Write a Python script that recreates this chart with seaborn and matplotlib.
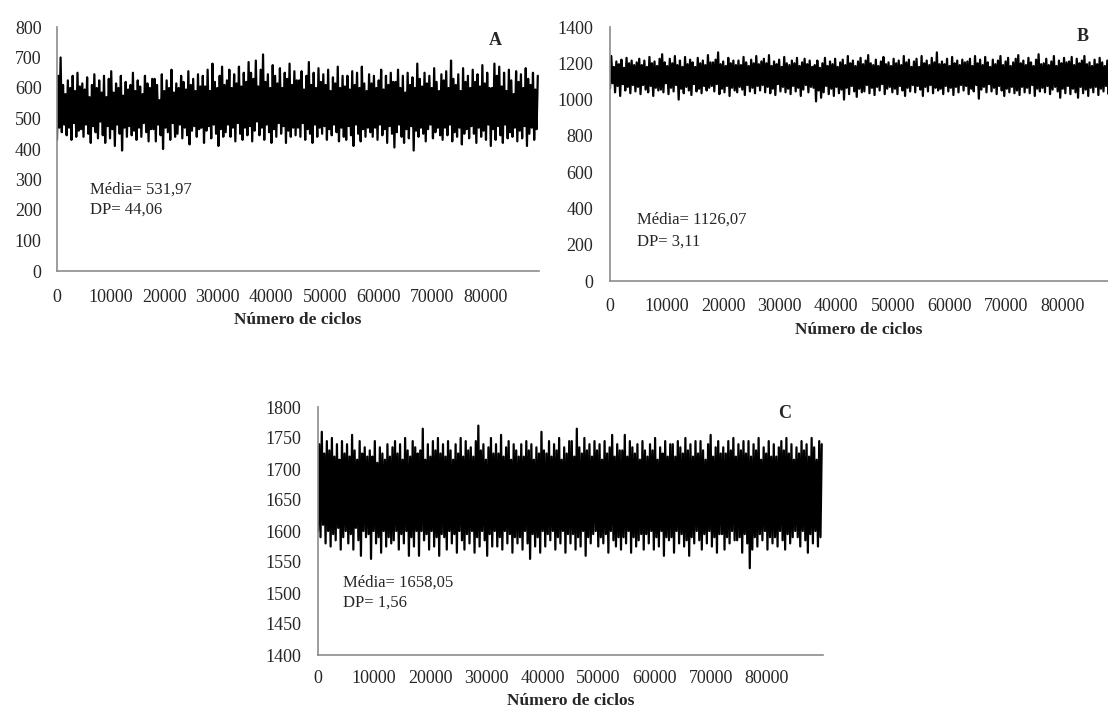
import numpy as np
import pandas as pd
import matplotlib
matplotlib.use("Agg")
import matplotlib.pyplot as plt
import seaborn as sns

# ---------------- data ----------------
cycle_step = 225  # cycles between plotted samples

trace_a = [
    430, 640, 470, 700, 455, 610, 480, 580, 445, 625, 470, 600, 430, 640, 485, 590, 440, 650, 460, 605,
    465, 615, 440, 595, 480, 635, 450, 570, 420, 610, 475, 645, 455, 600, 435, 625, 490, 585, 445, 640,
    420, 570, 475, 630, 435, 655, 465, 585, 410, 615, 480, 600, 450, 640, 395, 575, 470, 620, 440, 595,
    475, 610, 445, 650, 460, 590, 430, 625, 470, 605, 440, 580, 485, 640, 455, 615, 425, 600, 465, 630,
    465, 630, 425, 610, 480, 560, 445, 645, 400, 590, 470, 625, 455, 600, 430, 660, 485, 585, 440, 615,
    450, 600, 480, 640, 435, 620, 470, 595, 445, 655, 415, 610, 460, 630, 475, 590, 440, 645, 465, 605,
    470, 640, 420, 605, 460, 660, 475, 590, 435, 680, 480, 620, 450, 600, 410, 640, 465, 670, 440, 610,
    455, 625, 480, 660, 440, 600, 470, 645, 425, 615, 485, 670, 450, 605, 430, 650, 470, 620, 445, 685,
    475, 650, 425, 630, 460, 690, 490, 605, 445, 660, 470, 710, 430, 620, 480, 645, 455, 600, 420, 675,
    465, 640, 440, 615, 485, 665, 450, 600, 475, 650, 420, 630, 460, 680, 440, 610, 470, 655, 445, 625,
    470, 625, 440, 655, 485, 595, 430, 640, 465, 685, 450, 610, 420, 650, 480, 600, 440, 665, 470, 620,
    450, 645, 475, 610, 430, 660, 465, 590, 445, 635, 480, 615, 455, 670, 425, 600, 470, 640, 440, 605,
    430, 640, 475, 595, 445, 655, 410, 610, 480, 650, 450, 600, 425, 670, 465, 615, 440, 590, 470, 645,
    455, 615, 440, 640, 470, 600, 430, 625, 480, 660, 445, 595, 465, 640, 420, 610, 475, 650, 450, 620,
    405, 620, 455, 660, 480, 600, 440, 640, 420, 585, 465, 650, 435, 610, 475, 635, 395, 600, 460, 680,
    440, 630, 470, 605, 450, 650, 425, 615, 465, 640, 480, 600, 435, 665, 455, 620, 470, 590, 445, 645,
    430, 625, 470, 655, 445, 600, 480, 690, 425, 630, 455, 610, 440, 645, 470, 590, 415, 665, 450, 620,
    465, 640, 435, 600, 475, 660, 450, 620, 420, 645, 470, 605, 440, 675, 460, 615, 430, 650, 480, 600,
    410, 600, 465, 680, 430, 640, 475, 670, 445, 605, 420, 650, 480, 590, 435, 660, 455, 625, 440, 580,
    470, 655, 425, 620, 460, 645, 435, 600, 475, 665, 410, 630, 450, 610, 470, 650, 430, 595, 465, 640,
]

trace_b = [
    1060, 1240, 1090, 1180, 1040, 1210, 1075, 1195, 1020, 1220, 1085, 1175, 1050, 1230, 1070, 1200, 1035, 1215, 1080, 1190,
    1045, 1205, 1070, 1225, 1030, 1190, 1080, 1215, 1055, 1180, 1040, 1235, 1075, 1200, 1020, 1210, 1065, 1185, 1050, 1225,
    1055, 1250, 1040, 1205, 1090, 1185, 1030, 1225, 1065, 1200, 1045, 1240, 1080, 1190, 1000, 1215, 1060, 1180, 1035, 1235,
    1070, 1195, 1050, 1220, 1025, 1205, 1085, 1180, 1045, 1230, 1060, 1200, 1035, 1215, 1075, 1190, 1050, 1245, 1065, 1205,
    1075, 1205, 1045, 1220, 1085, 1260, 1030, 1195, 1060, 1210, 1040, 1185, 1075, 1230, 1020, 1200, 1065, 1215, 1050, 1190,
    1040, 1215, 1070, 1190, 1055, 1235, 1025, 1205, 1080, 1185, 1045, 1220, 1065, 1200, 1035, 1240, 1075, 1195, 1050, 1210,
    1080, 1225, 1040, 1200, 1070, 1245, 1035, 1185, 1060, 1210, 1025, 1195, 1085, 1220, 1045, 1180, 1070, 1235, 1040, 1200,
    1060, 1190, 1030, 1215, 1075, 1200, 1045, 1230, 1065, 1185, 1020, 1205, 1055, 1225, 1080, 1195, 1040, 1215, 1070, 1180,
    1065, 1190, 990, 1215, 1050, 1175, 1010, 1200, 1040, 1230, 1075, 1185, 1030, 1210, 1060, 1195, 1020, 1225, 1070, 1180,
    1035, 1205, 1055, 1220, 1000, 1190, 1065, 1240, 1030, 1200, 1075, 1215, 1045, 1185, 1015, 1210, 1060, 1230, 1040, 1195,
    1045, 1215, 1080, 1245, 1035, 1200, 1065, 1190, 1025, 1220, 1070, 1185, 1050, 1210, 1085, 1235, 1030, 1195, 1060, 1205,
    1070, 1185, 1040, 1225, 1060, 1200, 1030, 1215, 1075, 1190, 1050, 1240, 1020, 1205, 1065, 1220, 1045, 1180, 1080, 1210,
    1040, 1225, 1075, 1180, 1055, 1240, 1020, 1200, 1070, 1215, 1045, 1190, 1080, 1230, 1035, 1205, 1065, 1260, 1050, 1195,
    1060, 1210, 1030, 1195, 1075, 1225, 1045, 1185, 1065, 1235, 1025, 1200, 1070, 1215, 1040, 1190, 1080, 1220, 1050, 1205,
    1075, 1210, 1030, 1225, 1060, 1185, 1045, 1240, 1080, 1200, 1005, 1220, 1055, 1190, 1070, 1235, 1040, 1205, 1085, 1180,
    1045, 1220, 1065, 1195, 1030, 1215, 1075, 1240, 1050, 1190, 1020, 1210, 1060, 1230, 1040, 1185, 1070, 1205, 1035, 1225,
    1050, 1245, 1025, 1200, 1070, 1215, 1040, 1190, 1065, 1230, 1035, 1205, 1080, 1185, 1020, 1220, 1060, 1250, 1045, 1195,
    1065, 1200, 1040, 1225, 1075, 1190, 1030, 1210, 1055, 1240, 1070, 1185, 1045, 1215, 1010, 1200, 1060, 1230, 1035, 1205,
    1075, 1210, 1030, 1235, 1060, 1190, 1040, 1225, 1010, 1200, 1070, 1215, 1035, 1240, 1055, 1195, 1020, 1205, 1065, 1185,
    1040, 1220, 1070, 1195, 1025, 1230, 1060, 1205, 1045, 1185, 1075, 1215, 1030, 1200, 1065, 1240, 1050, 1190, 1020, 1210,
]

trace_c = [
    1600, 1740, 1590, 1760, 1610, 1725, 1580, 1745, 1600, 1730, 1575, 1750, 1595, 1720, 1585, 1740, 1605, 1715, 1570, 1745,
    1590, 1725, 1600, 1740, 1580, 1720, 1595, 1755, 1570, 1730, 1605, 1715, 1585, 1745, 1560, 1725, 1600, 1735, 1590, 1720,
    1595, 1730, 1555, 1720, 1600, 1745, 1580, 1710, 1590, 1735, 1565, 1725, 1600, 1715, 1575, 1740, 1590, 1720, 1580, 1735,
    1585, 1745, 1600, 1725, 1570, 1740, 1595, 1715, 1580, 1750, 1600, 1730, 1560, 1720, 1590, 1745, 1575, 1735, 1600, 1725,
    1560, 1730, 1600, 1765, 1585, 1715, 1595, 1740, 1570, 1720, 1600, 1745, 1575, 1730, 1590, 1750, 1560, 1725, 1595, 1740,
    1590, 1720, 1570, 1745, 1600, 1730, 1580, 1715, 1595, 1740, 1565, 1725, 1600, 1750, 1585, 1720, 1570, 1745, 1595, 1730,
    1580, 1735, 1600, 1720, 1565, 1745, 1590, 1770, 1575, 1730, 1600, 1740, 1585, 1715, 1560, 1735, 1595, 1750, 1575, 1725,
    1600, 1740, 1575, 1725, 1590, 1755, 1570, 1720, 1600, 1735, 1580, 1745, 1595, 1715, 1565, 1740, 1590, 1730, 1580, 1720,
    1590, 1740, 1570, 1720, 1600, 1745, 1580, 1730, 1555, 1740, 1595, 1715, 1575, 1735, 1590, 1725, 1565, 1760, 1600, 1730,
    1575, 1725, 1595, 1745, 1585, 1720, 1600, 1740, 1570, 1730, 1590, 1750, 1580, 1715, 1600, 1735, 1565, 1725, 1595, 1745,
    1580, 1745, 1595, 1720, 1570, 1765, 1590, 1735, 1575, 1725, 1600, 1750, 1560, 1730, 1590, 1740, 1580, 1720, 1595, 1745,
    1600, 1730, 1575, 1740, 1590, 1715, 1580, 1745, 1595, 1725, 1565, 1735, 1600, 1755, 1585, 1720, 1575, 1740, 1590, 1730,
    1570, 1730, 1590, 1755, 1580, 1720, 1600, 1745, 1565, 1735, 1590, 1725, 1575, 1740, 1585, 1715, 1595, 1745, 1570, 1730,
    1595, 1720, 1580, 1740, 1600, 1730, 1570, 1750, 1590, 1715, 1575, 1735, 1600, 1725, 1560, 1745, 1590, 1720, 1585, 1740,
    1590, 1740, 1565, 1720, 1600, 1745, 1580, 1735, 1595, 1725, 1575, 1750, 1585, 1730, 1560, 1740, 1590, 1720, 1580, 1745,
    1600, 1725, 1585, 1745, 1570, 1730, 1595, 1715, 1580, 1740, 1600, 1755, 1575, 1720, 1590, 1735, 1565, 1745, 1595, 1725,
    1595, 1735, 1570, 1725, 1590, 1745, 1580, 1730, 1600, 1750, 1585, 1720, 1585, 1740, 1590, 1730, 1565, 1745, 1595, 1725,
    1580, 1745, 1540, 1720, 1570, 1740, 1590, 1730, 1575, 1750, 1595, 1715, 1585, 1735, 1600, 1725, 1570, 1745, 1590, 1720,
    1580, 1740, 1590, 1720, 1575, 1735, 1600, 1745, 1585, 1730, 1570, 1750, 1595, 1725, 1580, 1740, 1590, 1715, 1600, 1735,
    1590, 1725, 1575, 1745, 1600, 1730, 1585, 1740, 1565, 1720, 1595, 1750, 1580, 1735, 1600, 1715, 1575, 1745, 1590, 1740,
]

x_ticks = [0, 10000, 20000, 30000, 40000, 50000, 60000, 70000, 80000]
y_ticks_a = [0, 100, 200, 300, 400, 500, 600, 700, 800]
y_ticks_b = [0, 200, 400, 600, 800, 1000, 1200, 1400]
y_ticks_c = [1400, 1450, 1500, 1550, 1600, 1650, 1700, 1750, 1800]

panel_letters = ["A", "B", "C"]
stats_mean = ["Média= 531,97", "Média= 1126,07", "Média= 1658,05"]
stats_sd = ["DP= 44,06", "DP= 3,11", "DP= 1,56"]
x_label = "Número de ciclos"

# ---------------- style ----------------
sns.set_style("white")
plt.rcParams["font.family"] = ["Liberation Serif", "DejaVu Serif"]

W, H = 1108, 711
fig = plt.figure(figsize=(W / 100, H / 100), dpi=100)


def make_axes(left, right, top, bottom):
    return fig.add_axes([left / W, (H - bottom) / H, (right - left) / W, (bottom - top) / H])


panels = [
    dict(box=(57, 539, 27, 271), y=trace_a, yt=y_ticks_a, ylim=(0, 800), xlim=(0, 90000),
         txt=(6200, 266, 200), let=(81900, 757), ypad=11, xpad=13, lpad=4),
    dict(box=(610, 1108, 27, 281), y=trace_b, yt=y_ticks_b, ylim=(0, 1400), xlim=(0, 88100),
         txt=(4800, 336, 215), let=(83700, 1345), ypad=12, xpad=12, lpad=5),
    dict(box=(318, 823, 407, 655), y=trace_c, yt=y_ticks_c, ylim=(1400, 1800), xlim=(0, 90000),
         txt=(4500, 1516, 1485), let=(83200, 1790), ypad=12, xpad=11, lpad=4),
]

for i, p in enumerate(panels):
    ax = make_axes(*p["box"])
    df = pd.DataFrame({"ciclo": np.arange(len(p["y"])) * cycle_step, "valor": p["y"]})
    sns.lineplot(data=df, x="ciclo", y="valor", ax=ax, color="black",
                 linewidth=1.6, estimator=None, sort=False)
    ax.set_xlim(*p["xlim"])
    ax.set_ylim(*p["ylim"])
    ax.set_xticks(x_ticks)
    ax.set_xticklabels([str(t) for t in x_ticks])
    ax.set_yticks(p["yt"])
    ax.set_yticklabels([str(t) for t in p["yt"]])
    ax.tick_params(axis="y", length=0, pad=p["ypad"], labelsize=13)
    ax.tick_params(axis="x", length=0, pad=p["xpad"], labelsize=13)
    for s in ["top", "right"]:
        ax.spines[s].set_visible(False)
    for s in ["left", "bottom"]:
        ax.spines[s].set_color("#8c8c8c")
        ax.spines[s].set_linewidth(1.2)
    ax.set_ylabel("")
    ax.set_xlabel(x_label, fontsize=12.5, fontweight="bold", labelpad=p["lpad"])
    tx, ty1, ty2 = p["txt"]
    ax.text(tx, ty1, stats_mean[i], fontsize=12, va="center", ha="left")
    ax.text(tx, ty2, stats_sd[i], fontsize=12, va="center", ha="left")
    lx, ly = p["let"]
    ax.text(lx, ly, panel_letters[i], fontsize=13, fontweight="bold", va="center", ha="center")
    ax.patch.set_alpha(0)

fig.savefig("out.png", dpi=100, facecolor="white")
